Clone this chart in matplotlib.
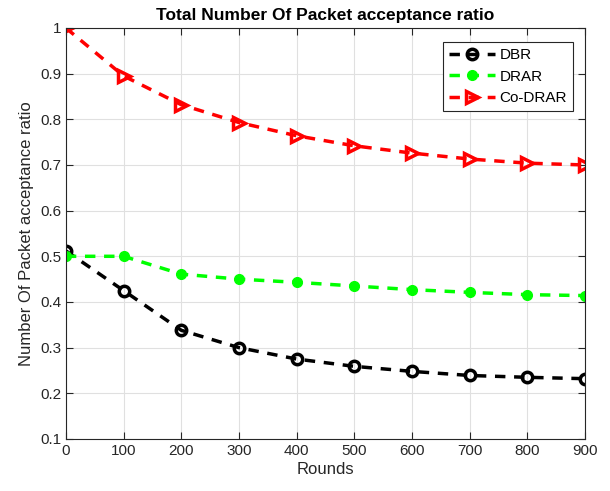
import matplotlib
matplotlib.use('Agg')
import matplotlib.pyplot as plt

plt.rcParams['font.family'] = ['Liberation Sans', 'DejaVu Sans']

rounds = [0, 100, 200, 300, 400, 500, 600, 700, 800, 900]
dbr = [0.512, 0.425, 0.338, 0.300, 0.275, 0.259, 0.248, 0.239, 0.235, 0.232]
drar = [0.500, 0.500, 0.461, 0.450, 0.443, 0.435, 0.427, 0.421, 0.416, 0.414]
co_drar = [1.000, 0.895, 0.832, 0.793, 0.764, 0.742, 0.726, 0.713, 0.704, 0.700]

fig = plt.figure(figsize=(6.1, 4.91), dpi=100)
ax = fig.add_axes([0.108, 0.106, 0.851, 0.837])

ax.plot(rounds, dbr, '--o', color='black', lw=2.5, markersize=7.5,
        markerfacecolor='none', markeredgewidth=2.5, label='DBR', dashes=(3, 2.5))
ax.plot(rounds, drar, '--o', color='#00ff00', lw=2.5, markersize=7,
        label='DRAR', dashes=(3, 2.5))
ax.plot(rounds, co_drar, '-->', color='red', lw=2.5, markersize=8.5,
        markerfacecolor='none', markeredgewidth=2.5, label='Co-DRAR', dashes=(3, 2.5))

ax.set_xlim(0, 900)
ax.set_ylim(0.1, 1.0)
ax.set_xticks(rounds)
ax.set_yticks([0.1, 0.2, 0.3, 0.4, 0.5, 0.6, 0.7, 0.8, 0.9, 1.0])
ax.set_yticklabels(['0.1', '0.2', '0.3', '0.4', '0.5', '0.6', '0.7', '0.8', '0.9', '1'])
ax.grid(True, color='#e0e0e0', lw=0.8)
ax.set_axisbelow(True)
ax.tick_params(direction='in', top=True, right=True, labelsize=11, colors='#262626',
               length=5, width=0.8)
for s in ax.spines.values():
    s.set_color('#262626')
    s.set_linewidth(0.8)

ax.set_xlabel('Rounds', fontsize=12, color='#262626', labelpad=3)
ax.set_ylabel('Number Of Packet acceptance ratio', fontsize=12, color='#262626')
ax.set_title('Total Number Of Packet acceptance ratio', fontsize=12.5, fontweight='bold', pad=6)

leg = ax.legend(loc='upper right', bbox_to_anchor=(0.977, 0.966), borderaxespad=0,
                fontsize=11, fancybox=False, framealpha=1, edgecolor='#262626',
                handlelength=3, borderpad=0.4, labelspacing=0.5, handletextpad=0.3)
leg.get_frame().set_linewidth(0.8)

fig.savefig('out.png', dpi=100)
